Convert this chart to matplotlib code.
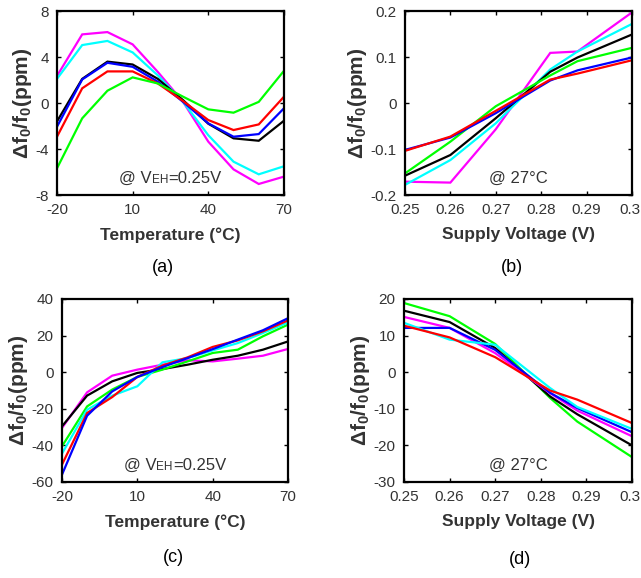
import matplotlib
matplotlib.use("Agg")
import matplotlib.pyplot as plt
import matplotlib.transforms as mtransforms
from matplotlib.offsetbox import TextArea, HPacker, AnnotationBbox

plt.rcParams['font.family'] = ['Liberation Sans', 'DejaVu Sans']
plt.rcParams['mathtext.fontset'] = 'custom'
plt.rcParams['mathtext.rm'] = 'Liberation Sans'
plt.rcParams['mathtext.bf'] = 'Liberation Sans:bold'

colors = {'red': '#ff0000', 'blue': '#0000ff', 'green': '#00ff00',
          'cyan': '#00ffff', 'magenta': '#ff00ff', 'black': '#000000'}

# (a) temperature sweep @ VEH=0.25V
temp = [-20, -10, 0, 10, 20, 30, 40, 50, 60, 70]
a_vals = {
    'magenta': [2.35, 5.97, 6.17, 5.1, 2.7, 0.1, -3.36, -5.77, -7.04, -6.4],
    'cyan':    [2.1, 5.04, 5.4, 4.4, 2.4, 0.1, -2.8, -5.1, -6.2, -5.5],
    'black':   [-1.6, 2.1, 3.6, 3.35, 2.1, 0.25, -1.8, -3.07, -3.28, -1.54],
    'blue':    [-2.06, 2.05, 3.5, 3.15, 1.85, 0.1, -1.77, -2.93, -2.7, -0.46],
    'red':     [-2.93, 1.28, 2.75, 2.75, 1.7, 0.17, -1.48, -2.35, -1.86, 0.55],
    'green':   [-5.68, -1.33, 1.07, 2.23, 1.7, 0.55, -0.55, -0.84, 0.1, 2.8],
}

# (b) supply voltage sweep @ 27C
volt = [0.25, 0.26, 0.27, 0.282, 0.288, 0.30]
b_vals = {
    'magenta': [-0.171, -0.173, -0.057, 0.109, 0.112, 0.197],
    'cyan':    [-0.178, -0.124, -0.044, 0.073, 0.112, 0.172],
    'black':   [-0.158, -0.113, -0.033, 0.068, 0.099, 0.149],
    'green':   [-0.153, -0.084, -0.007, 0.060, 0.091, 0.120],
    'blue':    [-0.102, -0.075, -0.022, 0.049, 0.071, 0.099],
    'red':     [-0.104, -0.073, -0.017, 0.051, 0.064, 0.093],
}

# (c) temperature sweep @ VEH=0.25V
c_vals = {
    'magenta': [-30.5, -11, -1.9, 1.4, 4.1, 6.5, 5.9, 7.4, 9.0, 12.7],
    'black':   [-29.6, -12.8, -5.0, -0.4, 1.7, 4.1, 6.8, 9.0, 12.3, 16.8],
    'green':   [-40.5, -18.7, -9.5, -2.6, 1.4, 5.9, 10.5, 12.3, 19.6, 26.0],
    'cyan':    [-44.5, -20.5, -12.8, -7.7, 5.4, 7.7, 11.9, 15.9, 21.4, 27.2],
    'red':     [-50.5, -22.3, -13.6, -2.6, 3.6, 8.1, 13.8, 17.4, 22.3, 28.3],
    'blue':    [-56.0, -23.8, -10.5, -2.6, 2.8, 7.7, 12.6, 17.8, 22.9, 29.5],
}

# (d) supply voltage sweep @ 27C
d_vals = {
    'green':   [18.9, 15.3, 7.7, -7.0, -13.5, -23.2],
    'black':   [16.8, 13.7, 6.6, -6.6, -11.5, -20.0],
    'magenta': [15.1, 12.1, 5.2, -5.7, -10.5, -17.5],
    'blue':    [12.1, 12.1, 6.1, -5.6, -9.8, -16.4],
    'cyan':    [13.5, 8.9, 7.5, -4.3, -9.5, -15.5],
    'red':     [12.7, 9.5, 4.1, -5.0, -7.5, -13.9],
}

temp_ticks = [-20, 10, 40, 70]
volt_ticks = [0.25, 0.26, 0.27, 0.28, 0.29, 0.30]
volt_ticklabels = ['0.25', '0.26', '0.27', '0.28', '0.29', '0.3']

fig = plt.figure(figsize=(6.41, 5.78), dpi=100)

txt_col = '#333333'
axes_specs = [
    ([0.0889, 0.6626, 0.3541, 0.3183], temp, a_vals, (-20, 70), temp_ticks, [str(t) for t in temp_ticks],
     (-8, 8), [-8, -4, 0, 4, 8], 'Temperature (°C)', 'veh', '(a)', (163, 267)),
    ([0.6318, 0.6626, 0.3541, 0.3183], volt, b_vals, (0.25, 0.30), volt_ticks, volt_ticklabels,
     (-0.2, 0.2), [-0.2, -0.1, 0, 0.1, 0.2], 'Supply Voltage (V)', '@ 27°C', '(b)', (512, 267)),
    ([0.0967, 0.1661, 0.3526, 0.3166], temp, c_vals, (-20, 70), temp_ticks, [str(t) for t in temp_ticks],
     (-60, 40), [-60, -40, -20, 0, 20, 40], 'Temperature (°C)', 'veh', '(c)', (173, 558)),
    ([0.6303, 0.1661, 0.3557, 0.3166], volt, d_vals, (0.25, 0.30), volt_ticks, volt_ticklabels,
     (-30, 20), [-30, -20, -10, 0, 10, 20], 'Supply Voltage (V)', '@ 27°C', '(d)', (520, 559)),
]

W, H = 641, 578
for rect, xs, vals, xl, xt, xtl, yl, yt, xlabel, note, tag, tagpos in axes_specs:
    ax = fig.add_axes(rect)
    for name, ys in vals.items():
        ax.plot(xs, ys, color=colors[name], lw=1.6, solid_joinstyle='miter')
    ax.set_xlim(*xl)
    ax.set_ylim(*yl)
    ax.set_xticks(xt)
    ax.set_xticklabels(xtl)
    ax.set_yticks(yt)
    ax.set_yticklabels([('%g' % v) for v in yt])
    ax.tick_params(direction='in', top=True, right=True, length=3, width=1,
                   labelsize=11, colors='black', labelcolor=txt_col, pad=6)
    for s in ax.spines.values():
        s.set_linewidth(1.6)
    if xl[1] == 0.30:
        last = ax.get_xticklabels()[-1]
        last.set_transform(last.get_transform() +
                           mtransforms.ScaledTranslation(-2.5 / 100, 0, fig.dpi_scale_trans))
    ax.set_xlabel(xlabel, fontsize=12.5, fontweight='bold', color=txt_col, labelpad=7)
    ax.set_ylabel(r'$\mathbf{\Delta f_0/f_0(ppm)}$', fontsize=15, color=txt_col, labelpad=1)
    if note == 'veh':
        parts = [TextArea('@ V', textprops=dict(fontsize=12, color=txt_col)),
                 TextArea('EH', textprops=dict(fontsize=8.5, color=txt_col)),
                 TextArea('=0.25V', textprops=dict(fontsize=12, color=txt_col))]
        box = HPacker(children=parts, align='baseline', pad=0, sep=0)
        ab = AnnotationBbox(box, (0.5, 0.09), xycoords='axes fraction',
                            frameon=False, box_alignment=(0.5, 0.5))
        ax.add_artist(ab)
    else:
        ax.text(0.5, 0.09, note, transform=ax.transAxes, ha='center', va='center',
                fontsize=12, color=txt_col)
    fig.text(tagpos[0] / W, 1 - tagpos[1] / H, tag, ha='center', va='center',
             fontsize=13, color='black')

fig.savefig('out.png', dpi=100)
